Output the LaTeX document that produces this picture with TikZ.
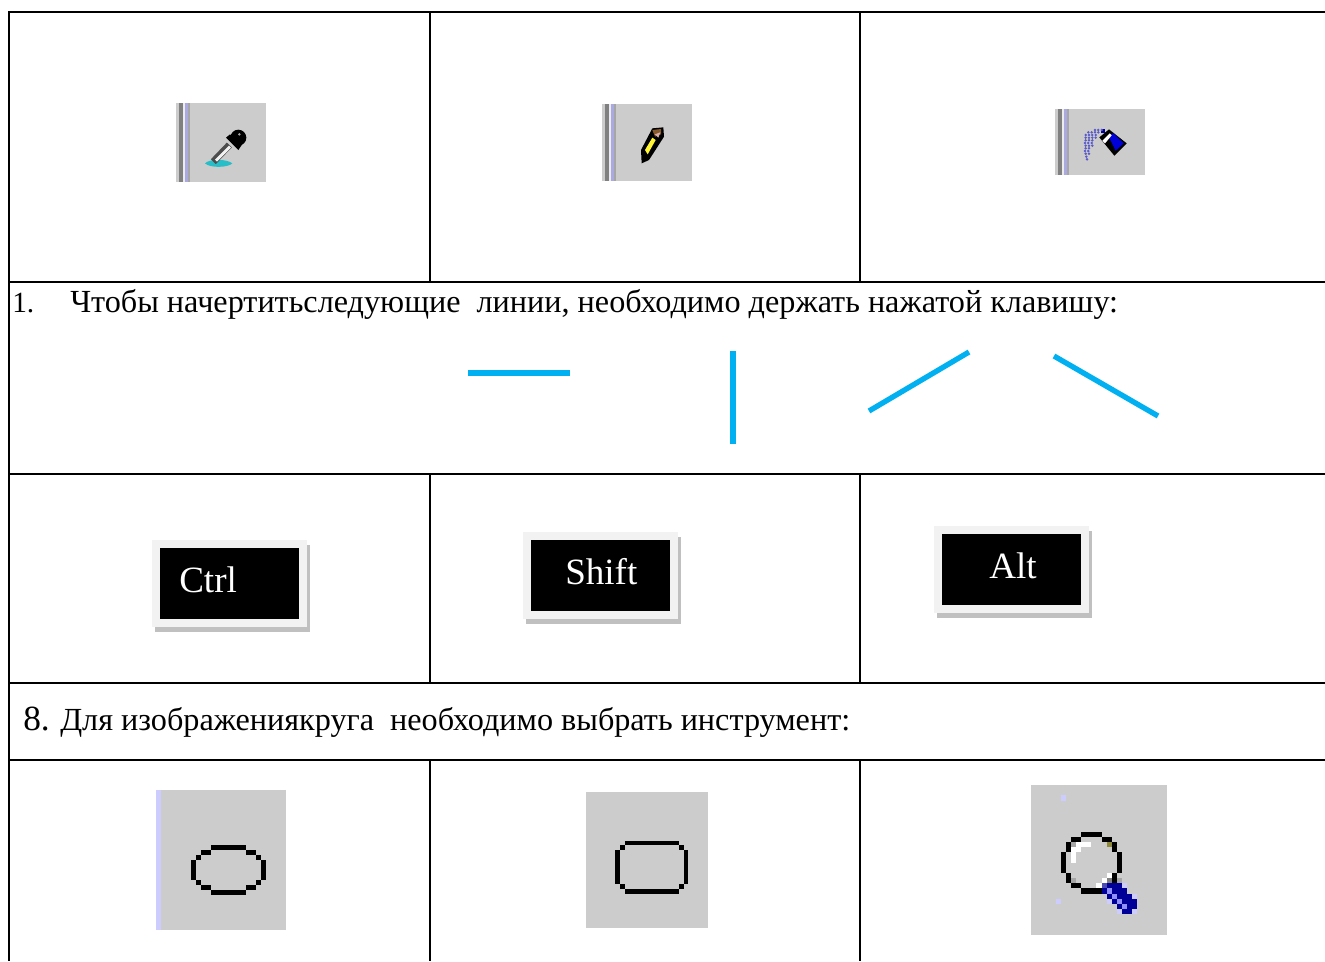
\documentclass[tikz,border=0pt]{standalone}
\usepackage{fontspec}
\setmainfont{Liberation Serif}
\definecolor{iconbg}{RGB}{204,204,204}
\definecolor{lav}{RGB}{204,204,255}
\definecolor{barl}{RGB}{170,170,225}
\definecolor{lineblue}{RGB}{0,176,240}
\definecolor{navyh}{RGB}{0,0,153}
\definecolor{keyface}{RGB}{242,242,242}
\definecolor{keyshadow}{RGB}{192,192,192}
\definecolor{puddle}{RGB}{40,190,200}
\definecolor{sprayblue}{RGB}{90,90,200}
\newcommand{\pxr}[5]{\fill[#5] (#1,#2) rectangle (#3,#4);}
\newcommand{\keycap}[6]{%
  \begin{scope}[shift={(#1,#2)}]
    \fill[keyshadow] (155,545) rectangle (310,632);
    \fill[keyface] (152,540) rectangle (307,627);
    \fill[black] (160,548) rectangle (299,619);
  \end{scope}
  \node[keytext] (#3) at (#4,#5) {#6};}
\newcommand{\gripbars}[3]{% x, y top, y bottom
  \fill[gray!40] (#1,#2) rectangle ++(3,#3-#2);
  \fill[gray] (#1+3,#2) rectangle ++(3.5,#3-#2);
  \fill[gray!15] (#1+6.5,#2) rectangle ++(2.5,#3-#2);
  \fill[barl] (#1+9,#2) rectangle ++(3,#3-#2);
  \fill[gray!70] (#1+12,#2) rectangle ++(1.5,#3-#2);
}
\tikzset{
  gridline/.style={draw=black,line width=1.6pt},
  bluestroke/.style={draw=lineblue,line width=4pt},
  bodytext/.style={anchor=base west,inner sep=0pt,font=\fontsize{24.15}{28}\selectfont},
  keytext/.style={anchor=base west,inner sep=0pt,text=white,font=\fontsize{27.8}{32}\selectfont},
  zoomed/.style={x=0.25pt,y=-0.25pt},
}
\begin{document}
\begin{tikzpicture}[x=0.75pt,y=-0.75pt]
\useasboundingbox (0,0) rectangle (1325,961);
% grid
\foreach \yy in {12,282,474,683,760} \draw[gridline] (9,\yy) -- (1325,\yy);
\draw[gridline] (9,11) -- (9,961);
\foreach \yy/\yb in {11/282,474/683,760/961} {
  \draw[gridline] (430,\yy) -- (430,\yb);
  \draw[gridline] (860,\yy) -- (860,\yb);
}
% top icons
\fill[iconbg] (176,103) rectangle (266,182);
\gripbars{176}{103}{182}
\fill[iconbg] (602,104) rectangle (692,181);
\gripbars{602}{104}{181}
\fill[iconbg] (1055,109) rectangle (1145,175);
\gripbars{1055}{109}{175}
% dropper
\begin{scope}[shift={(170,95)},zoomed]
\fill[puddle] (105,205) .. controls (120,190) and (170,192) .. (187,205) .. controls (175,218) and (120,220) .. (105,205) -- cycle;
\draw[black!70,line width=5.2pt] (130,200) -- (178,150);
\draw[white!90!gray,line width=2.2pt] (138,197) -- (180,155);
\fill[black] (168,128) -- (205,165) -- (215,150) -- (180,118) -- cycle;
\fill[black] (205,128) circle (24);
\fill[gray!70] (208,118) circle (4);
\end{scope}
% pencil
\begin{scope}[shift={(595,95)},zoomed]
\fill[black] (140,205) -- (138,165) -- (172,100) -- (205,97) -- (207,125) -- (162,195) -- cycle;
\fill[yellow!80!white] (150,165) -- (172,128) -- (182,135) -- (158,178) -- cycle;
\fill[brown!70!black] (172,105) -- (198,102) -- (198,118) -- (180,125) -- cycle;
\fill[pink!70!gray] (180,118) -- (196,112) -- (190,128) -- cycle;
\end{scope}
% spray
\begin{scope}[shift={(1045,100)},zoomed]
\fill[black] (163,112) -- (192,88) -- (245,130) -- (208,167) -- cycle;
\fill[blue!85!black] (190,108) -- (205,100) -- (236,130) -- (212,152) -- cycle;
\fill[white] (172,122) -- (194,100) -- (200,106) -- (180,130) -- cycle;
\fill[navyh] (168,88) rectangle (180,100);
\foreach \xa/\ya in {150/90,160/90,170/90,
  130/97,140/97,150/97,160/97,
  122/105,132/105,142/105,152/105,
  122/113,132/113,142/113,152/113,
  122/121,132/121,142/121,
  120/129,130/129,140/129,
  122/137,132/137,142/137,
  122/145,132/145,
  120/153,130/153,
  122/161,132/161,
  124/170,126/178}
  \fill[sprayblue] (\xa,\ya) circle (4.2);
\end{scope}
% row 2 text
\node[anchor=base west,inner sep=0pt,font=\fontsize{22}{26}\selectfont] (q1num) at (12,312) {1.};
\node[bodytext] (q1) at (70,312) {Чтобы начертитьследующие\ \ линии, необходимо держать нажатой клавишу:};
% blue strokes
\coordinate (h1) at (468,373); \coordinate (h2) at (570,373);
\coordinate (v1) at (733,351); \coordinate (v2) at (733,444);
\coordinate (a1) at (869,411); \coordinate (a2) at (969,352);
\coordinate (b1) at (1054,356); \coordinate (b2) at (1158,416);
\draw[bluestroke] (h1) -- (h2);
\draw[bluestroke] (v1) -- (v2);
\draw[bluestroke] (a1) -- (a2);
\draw[bluestroke] (b1) -- (b2);
% keys
\keycap{0}{0}{ctrl}{179}{592}{Ctrl}
\keycap{371}{-8}{shift}{565}{584}{Shift}
\keycap{782}{-14}{alt}{989}{578}{Alt}
% row 8 text
\node[anchor=base west,inner sep=0pt,font=\fontsize{26.5}{32}\selectfont] (q8num) at (23,730) {8.};
\node[bodytext] (q8) at (60,730) {Для изображениякруга\ \ необходимо выбрать инструмент:};
% ellipse icon
\fill[iconbg] (156,790) rectangle (286,930);
\fill[lav] (156,790) rectangle (161,930);
\begin{scope}[shift={(145,780)},zoomed]
\pxr{198}{195}{303}{210}{black}
\pxr{168}{210}{198}{225}{black}\pxr{303}{210}{333}{225}{black}
\pxr{153}{225}{168}{240}{black}\pxr{333}{225}{348}{240}{black}
\pxr{138}{240}{153}{300}{black}\pxr{348}{240}{363}{300}{black}
\pxr{153}{300}{168}{315}{black}\pxr{333}{300}{348}{315}{black}
\pxr{168}{315}{198}{330}{black}\pxr{303}{315}{333}{330}{black}
\pxr{198}{330}{303}{345}{black}
\end{scope}
% rounded rectangle icon
\fill[iconbg] (586,792) rectangle (708,928);
\begin{scope}[shift={(580,785)},zoomed]
\pxr{135}{168}{297}{181}{black}
\pxr{120}{181}{135}{195}{black}\pxr{297}{181}{312}{195}{black}
\pxr{105}{195}{120}{297}{black}\pxr{312}{195}{324}{297}{black}
\pxr{120}{297}{135}{312}{black}\pxr{297}{297}{312}{312}{black}
\pxr{135}{312}{297}{327}{black}
\end{scope}
% magnifier icon
\fill[iconbg] (1031,785) rectangle (1167,935);
\begin{scope}[shift={(1020,775)},zoomed]
\pxr{183}{171}{246}{186}{black}
\pxr{153}{186}{183}{201}{black}\pxr{246}{186}{276}{201}{black}
\pxr{138}{201}{153}{231}{black}\pxr{276}{201}{291}{231}{black}
\pxr{123}{231}{138}{293}{black}\pxr{291}{231}{306}{293}{black}
\pxr{138}{293}{153}{323}{black}\pxr{276}{293}{291}{323}{black}
\pxr{153}{323}{183}{339}{black}
\pxr{183}{339}{246}{356}{black}
\pxr{168}{201}{213}{216}{white}\pxr{153}{216}{183}{231}{white}\pxr{153}{231}{168}{263}{white}
\pxr{261}{293}{276}{308}{white}\pxr{246}{308}{261}{323}{white}\pxr{228}{323}{246}{339}{white}
\pxr{153}{201}{168}{216}{gray!70}\pxr{261}{201}{276}{216}{olive!60!gray}
\pxr{153}{308}{168}{323}{gray!70}\pxr{261}{308}{276}{323}{gray}\pxr{291}{308}{306}{323}{gray!70}
\pxr{261}{323}{306}{339}{navyh}\pxr{246}{339}{321}{356}{navyh}
\pxr{261}{356}{336}{372}{navyh}\pxr{276}{372}{351}{387}{navyh}
\pxr{291}{387}{351}{402}{navyh}\pxr{306}{402}{336}{417}{navyh}
\pxr{246}{323}{261}{339}{blue!40!gray}
\pxr{306}{323}{321}{339}{lav}\pxr{336}{356}{351}{372}{lav}
\pxr{261}{372}{276}{387}{lav}\pxr{291}{402}{306}{417}{lav}\pxr{336}{402}{351}{417}{lav}
\pxr{261}{339}{276}{356}{lav!70!blue}\pxr{276}{356}{291}{372}{lav!70!blue}\pxr{291}{372}{306}{387}{lav!70!blue}\pxr{306}{387}{321}{402}{lav!70!blue}
\pxr{123}{60}{138}{78}{lav}\pxr{108}{372}{123}{387}{lav}
\end{scope}
\end{tikzpicture}
\end{document}
